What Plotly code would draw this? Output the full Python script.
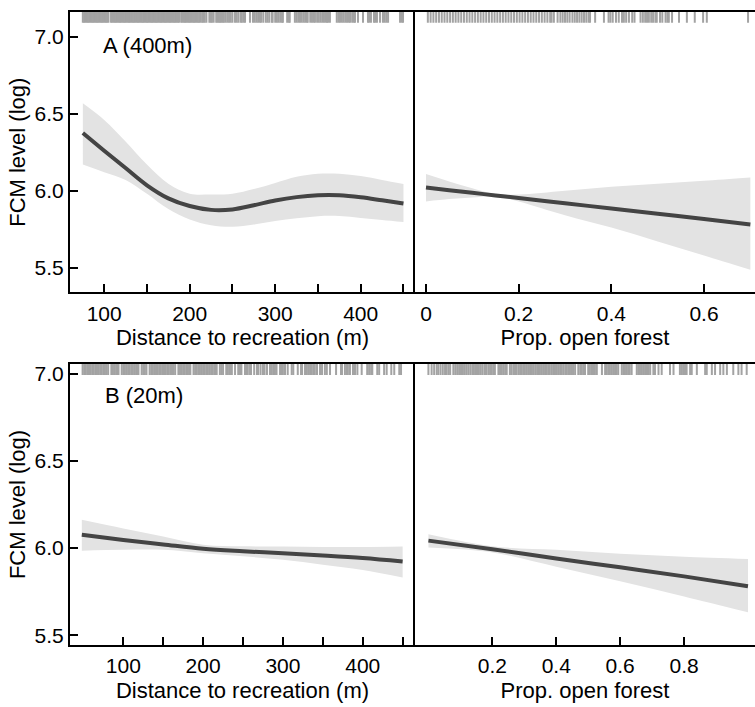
import plotly.graph_objects as go

# ---------------- data ----------------
# Panel A (400m): distance to recreation
a_dist_x = [75, 100, 125, 150, 175, 200, 225, 250, 275, 300, 325, 350, 375, 400, 425, 450]
a_dist_fit = [6.375, 6.26, 6.147, 6.035, 5.95, 5.90, 5.875, 5.878, 5.905, 5.936, 5.958, 5.97, 5.97, 5.957, 5.937, 5.916]
a_dist_hi = [6.568, 6.46, 6.32, 6.17, 6.045, 5.98, 5.975, 5.98, 6.01, 6.05, 6.09, 6.11, 6.11, 6.095, 6.07, 6.043]
a_dist_lo = [6.17, 6.12, 6.07, 5.98, 5.88, 5.813, 5.775, 5.765, 5.78, 5.802, 5.82, 5.834, 5.835, 5.823, 5.81, 5.797]
a_dist_rug = [75, 76.5, 78, 79.5, 81, 82.5, 84, 85.5, 87, 88.5, 90, 91.5, 93, 94.5, 96, 97.5, 99, 100.5, 102, 103.5, 105,
              108, 109.5, 111, 112.5, 114, 115.5, 117, 118.5, 120, 121.5, 123, 124.5, 126, 127.5, 129, 130.5, 132, 133.5,
              135, 136.5, 138, 139.5, 141, 142.5, 144, 145.5, 147, 148.5, 150, 151.5, 153, 154.5, 156, 157.5, 159, 160.5,
              162, 163.5, 165, 166.5, 168, 169.5, 171, 172.5, 174, 175.5, 177, 178.5, 180, 181.5, 183, 184.5, 186, 187.5,
              190, 191.5, 193, 194.5, 196, 197.5, 199, 200.5, 202, 203.5, 205, 206.5, 208, 209.5, 211, 212.5,
              214.5, 216, 217.5, 219.5, 223, 224.5, 226, 228, 231, 232.5, 234, 235.5, 237, 238.5, 240, 242, 244,
              246, 248, 250, 253, 255, 257, 259.6, 261, 263, 264.7, 270.5, 274, 276, 278, 280, 282, 283.4, 286,
              289, 291, 293, 296, 297, 300, 302, 304, 306, 308, 309, 314, 316, 317, 323, 325, 327, 329, 331, 333, 335,
              337, 338, 341, 343, 345, 346.5, 349, 351, 353, 355, 357, 359, 360.6, 362, 364, 372, 374, 375.8, 378,
              380, 382, 384, 386, 387.5, 390, 392, 393.3, 396.8, 402.7, 408.5, 410, 412, 415.5, 417, 419, 422.6,
              426, 428, 430, 432, 446, 448, 449.5]

# Panel A (400m): proportion open forest
a_open_x = [0, 0.05, 0.1, 0.15, 0.2, 0.3, 0.4, 0.5, 0.6, 0.7]
a_open_fit = [6.02, 6.003, 5.986, 5.969, 5.952, 5.918, 5.884, 5.85, 5.815, 5.78]
a_open_hi = [6.108, 6.06, 6.015, 5.978, 5.975, 6.0, 6.025, 6.045, 6.065, 6.086]
a_open_lo = [5.93, 5.945, 5.955, 5.96, 5.93, 5.84, 5.76, 5.67, 5.578, 5.485]
a_open_rug = [0.004, 0.01, 0.016, 0.022, 0.028, 0.034, 0.04, 0.046, 0.052, 0.058, 0.064, 0.07, 0.076, 0.082,
              0.088, 0.094, 0.1, 0.106, 0.112, 0.118, 0.124, 0.13, 0.136, 0.142, 0.148, 0.154, 0.16, 0.166,
              0.172, 0.178, 0.184, 0.19, 0.196, 0.202, 0.208, 0.214, 0.22, 0.226, 0.232, 0.238, 0.244, 0.25,
              0.256, 0.262, 0.268, 0.271, 0.276, 0.284, 0.29, 0.295, 0.3, 0.305, 0.31, 0.316, 0.321, 0.326,
              0.331, 0.336, 0.341, 0.346, 0.351, 0.354, 0.365, 0.384, 0.394, 0.398, 0.403, 0.41, 0.416, 0.423,
              0.427, 0.432, 0.438, 0.445, 0.45, 0.463, 0.468, 0.473, 0.477, 0.481, 0.486, 0.49, 0.495, 0.498,
              0.505, 0.51, 0.517, 0.521, 0.524, 0.531, 0.546, 0.563, 0.58, 0.598, 0.606, 0.695]

# Panel B (20m): distance to recreation
b_dist_x = [48, 100, 150, 200, 250, 300, 350, 400, 450]
b_dist_fit = [6.076, 6.047, 6.021, 5.996, 5.982, 5.971, 5.958, 5.943, 5.923]
b_dist_hi = [6.162, 6.112, 6.066, 6.019, 6.01, 6.009, 6.007, 6.006, 6.009]
b_dist_lo = [5.985, 5.99, 5.99, 5.971, 5.953, 5.933, 5.905, 5.875, 5.832]
b_dist_rug = [49, 51, 53, 55, 57, 59, 61, 63, 65, 67, 69, 71, 73, 75, 77, 79, 81, 85, 87, 89, 91, 93, 94,
              98, 100, 102, 104, 106, 108, 110, 112, 114, 116, 118, 119, 123, 125, 127, 129, 133, 135, 137,
              139, 141, 143, 145, 147, 149, 151, 153, 155, 157, 159, 161, 163, 165, 169, 171, 173, 175, 177,
              179, 181, 183, 184, 188, 190, 192, 194, 196, 198, 200, 202, 204, 206, 208, 210, 212, 214, 216,
              217, 221, 223, 225, 229, 231, 233, 235, 236, 240, 244, 246.2, 248, 252.5, 254, 256, 258.8, 260,
              264, 267.5, 269, 272, 275, 277, 280, 283.8, 286, 288, 290, 292, 296.4, 298, 300, 302.6, 306, 311,
              313, 318.6, 322.7, 324, 327.7, 330, 332, 334, 336, 338, 340, 342.7, 346.5, 349, 352.6, 355, 359,
              366.6, 372.8, 374, 377.7, 380, 381.4, 384, 387.8, 390.3, 393.3, 398.7, 405.6, 408, 410.5, 412,
              418.2, 420.6, 426.8, 430, 435.8, 439.5, 445.8, 448]

# Panel B (20m): proportion open forest
b_open_x = [0, 0.2, 0.4, 0.6, 0.8, 1.0]
b_open_fit = [6.043, 5.994, 5.94, 5.89, 5.838, 5.781]
b_open_hi = [6.08, 6.011, 5.99, 5.967, 5.95, 5.937]
b_open_lo = [6.003, 5.975, 5.893, 5.81, 5.723, 5.632]
b_open_rug = [0.0, 0.01, 0.018, 0.026, 0.031, 0.038, 0.045, 0.052, 0.057, 0.063, 0.068, 0.078, 0.084, 0.09,
              0.096, 0.102, 0.108, 0.114, 0.12, 0.126, 0.132, 0.138, 0.141, 0.146, 0.152, 0.158, 0.164, 0.17,
              0.177, 0.182, 0.188, 0.193, 0.198, 0.203, 0.208, 0.219, 0.224, 0.229, 0.234, 0.24, 0.245, 0.255,
              0.26, 0.266, 0.271, 0.276, 0.282, 0.287, 0.292, 0.297, 0.302, 0.308, 0.313, 0.318, 0.324, 0.33,
              0.336, 0.341, 0.344, 0.349, 0.355, 0.36, 0.365, 0.37, 0.375, 0.38, 0.386, 0.391, 0.396, 0.401,
              0.406, 0.412, 0.417, 0.422, 0.428, 0.433, 0.438, 0.443, 0.449, 0.453, 0.459, 0.469, 0.475, 0.48,
              0.485, 0.49, 0.5, 0.505, 0.51, 0.515, 0.521, 0.527, 0.543, 0.553, 0.558, 0.563, 0.568, 0.574,
              0.579, 0.584, 0.589, 0.594, 0.605, 0.61, 0.615, 0.62, 0.625, 0.63, 0.636, 0.652, 0.657, 0.662,
              0.668, 0.673, 0.678, 0.684, 0.689, 0.694, 0.704, 0.709, 0.72, 0.73, 0.756, 0.767, 0.787, 0.792,
              0.797, 0.803, 0.808, 0.819, 0.824, 0.84, 0.866, 0.871, 0.887, 0.897, 0.913, 0.923, 0.934, 0.954,
              0.97, 0.98, 0.996]

y_ticks = [5.5, 6.0, 6.5, 7.0]
y_ticktext = ["5.5", "6.0", "6.5", "7.0"]
dist_ticks = [100, 150, 200, 250, 300, 350, 400, 450]
dist_ticktext = ["100", "", "200", "", "300", "", "400", ""]
a_open_ticks = [0, 0.2, 0.4, 0.6]
a_open_ticktext = ["0", "0.2", "0.4", "0.6"]
b_open_ticks = [0.2, 0.4, 0.6, 0.8]
b_open_ticktext = ["0.2", "0.4", "0.6", "0.8"]

panel_labels = ["A (400m)", "B (20m)"]
x_title_dist = "Distance to recreation (m)"
x_title_open = "Prop. open forest"
y_title = "FCM level (log)"

# ---------------- styling ----------------
FONT = "Liberation Sans, Arial, sans-serif"
LINE_COL = "#444444"
BAND_COL = "#e3e3e3"
RUG_COL = "#a3a3a3"

fig = go.Figure()

panels = [
    # (xaxis, yaxis, x, fit, hi, lo, rug, rug_y)
    ("x", "y", a_dist_x, a_dist_fit, a_dist_hi, a_dist_lo, a_dist_rug, 7.128),
    ("x2", "y2", a_open_x, a_open_fit, a_open_hi, a_open_lo, a_open_rug, 7.128),
    ("x3", "y3", b_dist_x, b_dist_fit, b_dist_hi, b_dist_lo, b_dist_rug, 7.024),
    ("x4", "y4", b_open_x, b_open_fit, b_open_hi, b_open_lo, b_open_rug, 7.024),
]

for xa, ya, xs, fit, hi, lo, rug, rug_y in panels:
    fig.add_trace(go.Scatter(x=xs, y=hi, xaxis=xa, yaxis=ya, mode="lines",
                             line=dict(width=0, color=BAND_COL, shape="spline"),
                             showlegend=False, hoverinfo="skip"))
    fig.add_trace(go.Scatter(x=xs, y=lo, xaxis=xa, yaxis=ya, mode="lines",
                             line=dict(width=0, color=BAND_COL, shape="spline"),
                             fill="tonexty", fillcolor=BAND_COL,
                             showlegend=False, hoverinfo="skip"))
    fig.add_trace(go.Scatter(x=xs, y=fit, xaxis=xa, yaxis=ya, mode="lines",
                             line=dict(width=4, color=LINE_COL, shape="spline"),
                             showlegend=False))
    fig.add_trace(go.Scatter(x=rug, y=[rug_y] * len(rug), xaxis=xa, yaxis=ya, mode="markers",
                             marker=dict(symbol="line-ns", size=8,
                                         line=dict(width=2, color=RUG_COL)),
                             showlegend=False, hoverinfo="x"))

W, H = 755, 707
def px_x(p):
    return p / W
def px_y(p):
    return 1 - p / H

top_dom = [px_y(291.7), px_y(10)]
bot_dom = [px_y(646), px_y(363.3)]
left_dom = [px_x(70), px_x(415)]
right_dom = [px_x(415), 1.0]

tickfont = dict(family=FONT, size=21, color="black")
titlefont = dict(family=FONT, size=22, color="black")

common_x = dict(showline=True, linecolor="black", linewidth=2, mirror=True,
                ticks="inside", ticklen=8, tickwidth=2, tickcolor="black",
                showgrid=False, zeroline=False, tickfont=tickfont,
                ticklabelstandoff=1)
common_y = dict(showline=True, linecolor="black", linewidth=2, mirror=False,
                showgrid=False, zeroline=False, tickfont=tickfont,
                tickvals=y_ticks, ticktext=y_ticktext)

fig.update_layout(
    width=W, height=H,
    margin=dict(l=0, r=0, t=0, b=0),
    paper_bgcolor="white", plot_bgcolor="white",
    font=dict(family=FONT, color="black"),
    xaxis=dict(**common_x, domain=left_dom, anchor="y", range=[60, 463.5],
               tickvals=dist_ticks, ticktext=dist_ticktext,
               title=dict(text=x_title_dist, font=titlefont, standoff=6)),
    xaxis2=dict(**common_x, domain=right_dom, anchor="y2", range=[-0.0237, 0.71],
                tickvals=a_open_ticks, ticktext=a_open_ticktext,
                title=dict(text=x_title_open, font=titlefont, standoff=6)),
    xaxis3=dict(**common_x, domain=left_dom, anchor="y3", range=[33.2, 465.5],
                tickvals=dist_ticks, ticktext=dist_ticktext,
                title=dict(text=x_title_dist, font=titlefont, standoff=6)),
    xaxis4=dict(**common_x, domain=right_dom, anchor="y4", range=[-0.042, 1.022],
                tickvals=b_open_ticks, ticktext=b_open_ticktext,
                title=dict(text=x_title_open, font=titlefont, standoff=6)),
    yaxis=dict(**common_y, domain=top_dom, anchor="x", range=[5.338, 7.162],
               ticks="inside", ticklen=8, tickwidth=2, tickcolor="black",
               title=dict(text=y_title, font=titlefont, standoff=3)),
    yaxis2=dict(**common_y, domain=top_dom, anchor="x2", range=[5.338, 7.162],
                ticks="", showticklabels=False),
    yaxis3=dict(**common_y, domain=bot_dom, anchor="x3", range=[5.443, 7.057],
                ticks="inside", ticklen=8, tickwidth=2, tickcolor="black",
                title=dict(text=y_title, font=titlefont, standoff=3)),
    yaxis4=dict(**common_y, domain=bot_dom, anchor="x4", range=[5.443, 7.057],
                ticks="", showticklabels=False),
    annotations=[
        dict(text=panel_labels[0], xref="paper", yref="paper", x=px_x(101), y=px_y(43.3),
             xanchor="left", yanchor="middle", showarrow=False, font=titlefont),
        dict(text=panel_labels[1], xref="paper", yref="paper", x=px_x(103), y=px_y(395),
             xanchor="left", yanchor="middle", showarrow=False, font=titlefont),
    ],
)

fig.write_html("out.html")
